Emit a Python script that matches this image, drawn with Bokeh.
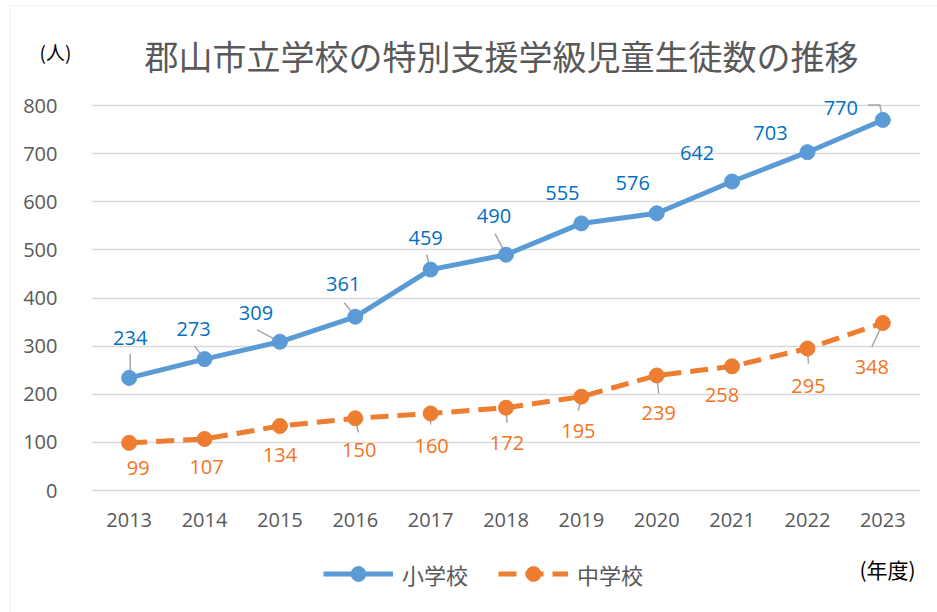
from bokeh.plotting import figure
from bokeh.models import (ColumnDataSource, Range1d, FixedTicker, Label, Legend,
                          LegendItem, BoxAnnotation)
from bokeh.core.properties import value
from bokeh.embed import file_html
from bokeh.resources import INLINE

# ---- data ----
years = [2013, 2014, 2015, 2016, 2017, 2018, 2019, 2020, 2021, 2022, 2023]
elementary = [234, 273, 309, 361, 459, 490, 555, 576, 642, 703, 770]
junior_high = [99, 107, 134, 150, 160, 172, 195, 239, 258, 295, 348]
y_ticks = [0, 100, 200, 300, 400, 500, 600, 700, 800]
series_names = ["小学校", "中学校"]
title_text = "郡山市立学校の特別支援学級児童生徒数の推移"
y_unit = "(人)"
x_unit = "(年度)"

# ---- label placement (pixel offsets from each point) ----
elem_lbl_dx = [1, -11, -24, -12, -5, -12, -19, -24, -35, -37, -42]
elem_lbl_dy = [-40, -30, -29, -33, -32, -39, -30, -30, -29, -19, -12]
jr_lbl_dx = [9, 2, 0, 4, 1, 1, -3, 2, -10, 1, -11]
jr_lbl_dy = [25, 28, 29, 32, 32, 35, 34, 38, 29, 37, 44]
# leader lines: pixel offset polylines (relative to point), None = no leader
elem_leader = [[(1, -24), (1, 0)], [(-10, -13), (0, 0)], [(-23, -12), (0, 0)],
               [(-11, -14), (0, 0)], [(-4, -15), (0, 0)], [(-11, -21), (0, 0)],
               None, None, None, None, [(-15, -15), (-3, -15), (0, 0)]]
jr_leader = [None, None, None, [(3, 14), (0, 0)], [(0, 11), (0, 0)], [(1, 15), (0, 0)],
             [(-3, 14), (0, 0)], [(2, 18), (0, 0)], None, [(1, 15), (0, 0)],
             [(-11, 24), (0, 0)]]

W, H = 937, 612
FL, FR = 91, 920          # plot-area pixel extent
Y0, Y800 = 490, 105
XS = (FR - FL) / 11.0
YS = (Y0 - Y800) / 800.0


def xd(px):
    return 2012.5 + (px - FL) / XS


def yd(py):
    return (Y0 - py) / YS


p = figure(width=W, height=H, output_backend="svg", toolbar_location=None,
           x_range=Range1d(xd(0), xd(W)), y_range=Range1d(yd(H), yd(0)),
           min_border=0, outline_line_color=None)
p.background_fill_color = "white"
p.border_fill_color = "white"

GRAY = "#595959"
TICK_FONT = "Open Sans"
CJK = "Noto Sans CJK JP"

# axes
p.yaxis.fixed_location = 2012.5
p.yaxis.ticker = FixedTicker(ticks=y_ticks)
p.yaxis.axis_line_color = None
p.yaxis.major_tick_line_color = None
p.yaxis.minor_tick_line_color = None
p.yaxis.major_label_standoff = 28
p.yaxis.major_label_text_font = TICK_FONT
p.yaxis.major_label_text_font_size = "20px"
p.yaxis.major_label_text_color = GRAY

p.xaxis.fixed_location = 0
p.xaxis.ticker = FixedTicker(ticks=years)
p.xaxis.major_label_overrides = {y: str(y) for y in years}
p.xaxis.axis_line_color = None
p.xaxis.major_tick_line_color = None
p.xaxis.minor_tick_line_color = None
p.xaxis.major_label_standoff = 16
p.xaxis.major_label_text_font = TICK_FONT
p.xaxis.major_label_text_font_size = "20px"
p.xaxis.major_label_text_color = GRAY

p.xgrid.visible = False
p.ygrid.ticker = FixedTicker(ticks=y_ticks)
p.ygrid.grid_line_color = "#D9D9D9"
p.ygrid.grid_line_width = 1.5
try:
    p.ygrid.cross_bounds = (2012.5, 2023.5)
except Exception:
    p.ygrid.visible = False
    p.segment(x0=[2012.5] * len(y_ticks), x1=[2023.5] * len(y_ticks),
              y0=y_ticks, y1=y_ticks, line_color="#D9D9D9", line_width=1.5)

# chart border
p.add_layout(BoxAnnotation(left=xd(9.5), top=yd(5.5), right=xd(W + 50), bottom=yd(H + 50),
                           fill_alpha=0, line_color="#D9D9D9", line_width=1.5))

BLUE = "#5B9BD5"
ORANGE = "#ED7D31"
BLUE_T = "#0070C0"
ORANGE_T = "#F47320"


def leaders(vals, spec):
    xs, ys = [], []
    for yr, v, poly in zip(years, vals, spec):
        if poly is None:
            continue
        xs.append([yr + dx / XS for dx, dy in poly])
        ys.append([v - dy / YS for dx, dy in poly])
    return xs, ys


for vals, spec in ((elementary, elem_leader), (junior_high, jr_leader)):
    lx, ly = leaders(vals, spec)
    p.multi_line(lx, ly, line_color="#A6A6A6", line_width=1.5)

src_e = ColumnDataSource(dict(x=years, y=elementary, t=[str(v) for v in elementary],
                              dx=elem_lbl_dx, dy=elem_lbl_dy))
src_j = ColumnDataSource(dict(x=years, y=junior_high, t=[str(v) for v in junior_high],
                              dx=jr_lbl_dx, dy=jr_lbl_dy))

le = p.line("x", "y", source=src_e, line_color=BLUE, line_width=5)
se = p.scatter("x", "y", source=src_e, marker="circle", size=15, fill_color=BLUE,
               line_color=BLUE)
lj = p.line("x", "y", source=src_j, line_color=ORANGE, line_width=5, line_dash="18 9")
sj = p.scatter("x", "y", source=src_j, marker="circle", size=15, fill_color=ORANGE,
               line_color=ORANGE)

for src, col in ((src_e, BLUE_T), (src_j, ORANGE_T)):
    p.text("x", "y", text="t", source=src, x_offset="dx", y_offset="dy",
           text_align="center", text_baseline="middle", text_color=col,
           text_font=value(TICK_FONT), text_font_size="20px")

# titles / units
p.add_layout(Label(x=xd(501), y=yd(55), text=title_text, text_align="center",
                   text_baseline="middle", text_font=CJK, text_font_size="34px",
                   text_color=GRAY))
p.add_layout(Label(x=xd(55), y=yd(51), text=y_unit, text_align="center",
                   text_baseline="middle", text_font=CJK, text_font_size="19px",
                   text_color="#000000"))
p.add_layout(Label(x=xd(887), y=yd(568), text=x_unit, text_align="center",
                   text_baseline="middle", text_font=CJK, text_font_size="21px",
                   text_color="#000000"))

legend = Legend(items=[LegendItem(label=series_names[0], renderers=[le, se]),
                       LegendItem(label=series_names[1], renderers=[lj, sj])],
                orientation="horizontal", location=(323, 20),
                glyph_width=70, glyph_height=37, label_standoff=9, spacing=30,
                padding=0, margin=0, border_line_color=None,
                background_fill_alpha=0, label_text_font=CJK,
                label_text_font_size="22px", label_text_color=GRAY)
p.add_layout(legend, "center")

open("out.html", "w").write(file_html(p, INLINE))
